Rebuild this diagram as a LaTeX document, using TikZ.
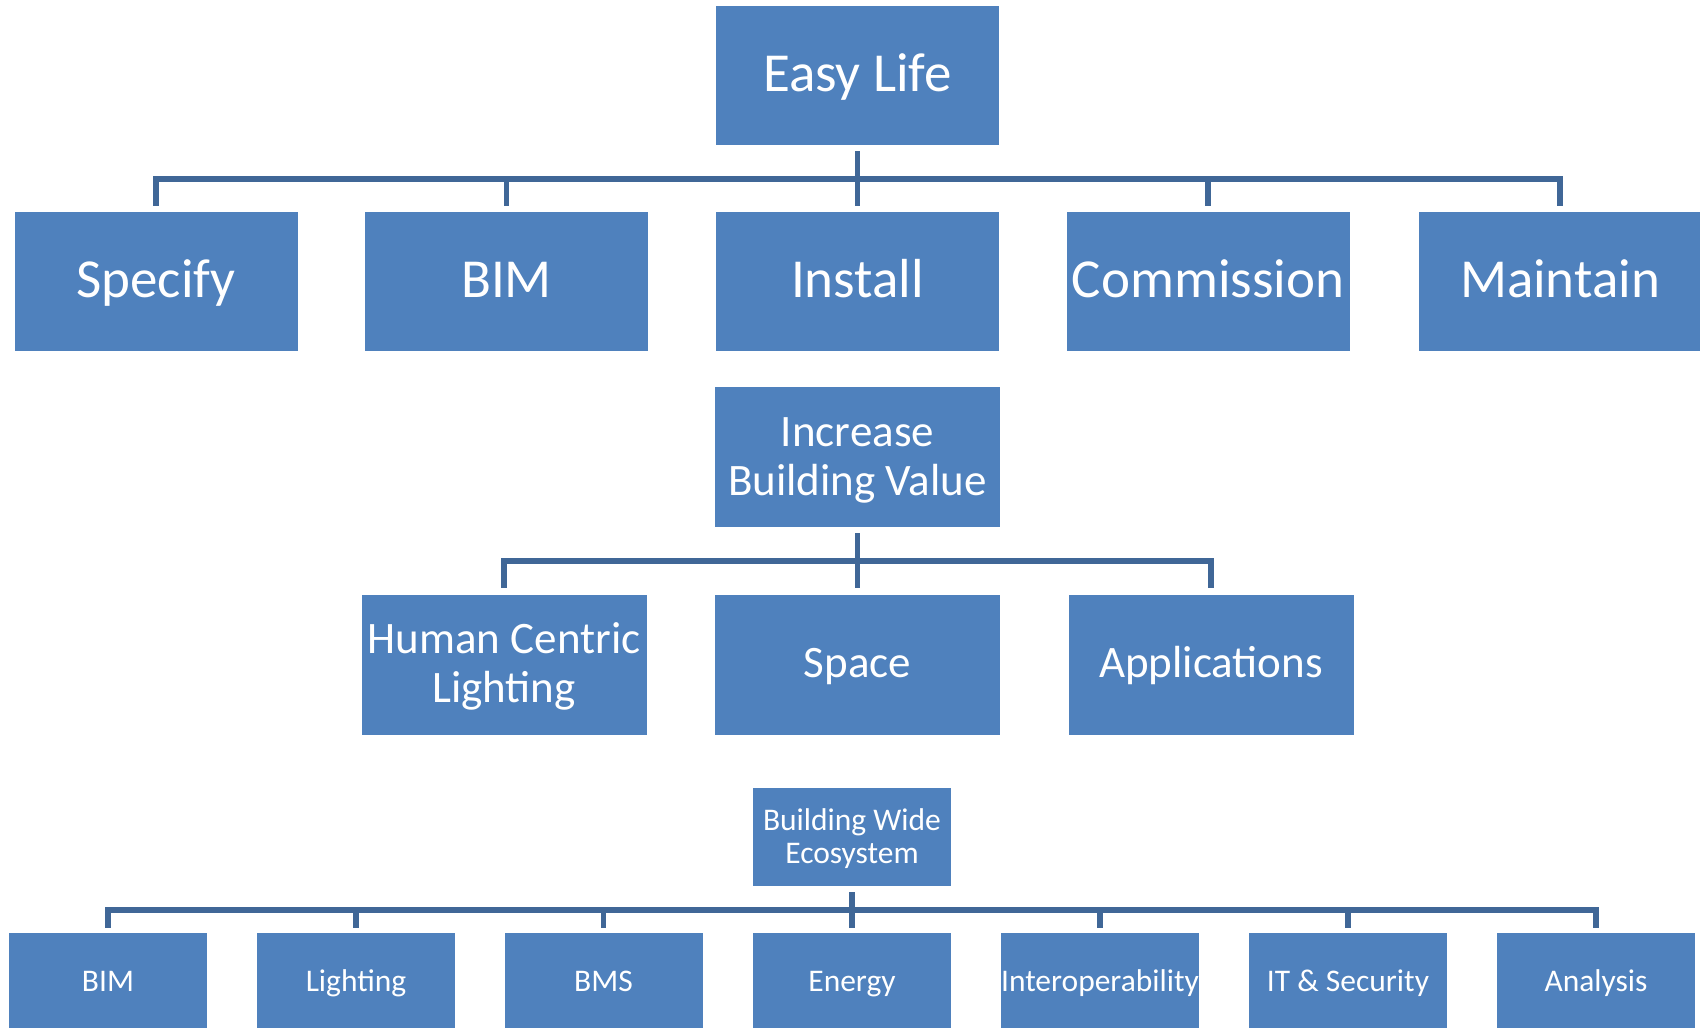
\documentclass[tikz,border=0pt]{standalone}
\usepackage{fontspec}
\setmainfont{Carlito}
\definecolor{boxblue}{RGB}{79,129,189}
\definecolor{connblue}{RGB}{64,103,151}
\begin{document}
\begin{tikzpicture}[x=1pt,y=-1pt,
  box/.style={fill=boxblue, text=white, inner sep=0pt, align=center},
  bigbox/.style={box, minimum width=283pt, minimum height=139pt, font=\fontsize{55}{60}\selectfont, text height=43.5pt, text depth=11.5pt},
  midbox/.style={box, minimum width=285pt, minimum height=140pt, font=\fontsize{45}{49}\selectfont},
  midone/.style={midbox, text height=35pt, text depth=10pt},
  midtwo/.style={midbox, text height=83.5pt, text depth=6.75pt},
  smallbox/.style={box, minimum width=198pt, minimum height=98pt, font=\fontsize{31.5}{33.5}\selectfont},
  smallone/.style={smallbox, text height=24.8pt, text depth=6.7pt},
  smalltwo/.style={smallbox, text height=58pt, text depth=4.7pt},
  conn/.style={draw=connblue, line width=5.5pt, line join=miter, shorten <=6pt, shorten >=6pt}
]
\useasboundingbox (0,0) rectangle (1700,1028);
\begin{scope}
\clip (0,0) rectangle (1700,1028);
% level 1
\node[bigbox] (ez) at (857.5,75.5) {Easy Life};
\node[bigbox] (sp) at (156,281.5) {Specify};
\node[bigbox] (bim1) at (506.5,281.5) {BIM};
\node[bigbox] (ins) at (857.5,281.5) {Install};
\node[bigbox] (com) at (1208,281.5) {Commission};
\node[bigbox] (mai) at (1560,281.5) {Maintain};
\foreach \c in {sp,bim1,ins,com,mai}
  \draw[conn] (ez.south) -- ++(0,34) -| (\c.north);
% level 2
\node[midtwo] (inc) at (857.5,457) {Increase\\Building Value};
\node[midtwo] (hcl) at (504,664.5) {Human Centric\\Lighting};
\node[midone] (spa) at (857.5,664.5) {Space};
\node[midone] (app) at (1211,664.5) {Applications};
\foreach \c in {hcl,spa,app}
  \draw[conn] (inc.south) -- ++(0,34) -| (\c.north);
% level 3
\node[smalltwo] (bwe) at (852,837) {Building Wide\\Ecosystem};
\node[smallone] (bim2) at (108,982) {BIM};
\node[smallone] (lig) at (356,982) {Lighting};
\node[smallone] (bms) at (603.5,982) {BMS};
\node[smallone] (ene) at (852,982) {Energy};
\node[smallone] (int) at (1100,982) {Interoperability};
\node[smallone] (its) at (1348,982) {IT \& Security};
\node[smallone] (ana) at (1596,982) {Analysis};
\foreach \c in {bim2,lig,bms,ene,int,its,ana}
  \draw[conn, shorten >=5pt] (bwe.south) -- ++(0,24) -| (\c.north);
\end{scope}
\end{tikzpicture}
\end{document}
